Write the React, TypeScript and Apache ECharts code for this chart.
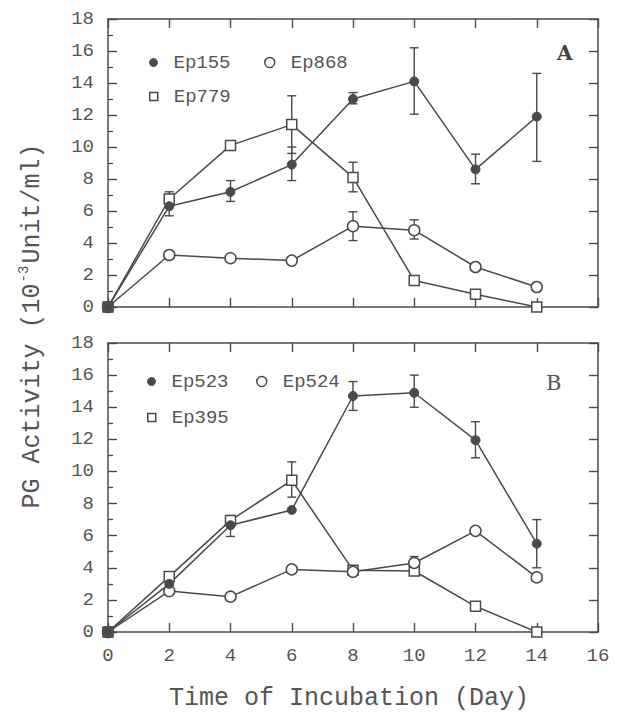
import React, { useEffect, useRef } from "react";
import * as echarts from "echarts";

// ---------- data ----------
const days = [0, 2, 4, 6, 8, 10, 12, 14];

// Panel A
const ep155 = [0, 6.3, 7.2, 8.9, 13.0, 14.1, 8.6, 11.9];
const ep868 = [0, 3.25, 3.05, 2.9, 5.05, 4.8, 2.5, 1.25];
const ep779 = [0, 6.75, 10.1, 11.4, 8.1, 1.65, 0.8, 0];
// error bars [day, low, high]
const ep155Err = [
  [2, 5.7, 6.9],
  [4, 6.6, 7.9],
  [6, 7.9, 10.0],
  [8, 12.7, 13.4],
  [10, 12.05, 16.2],
  [12, 7.7, 9.55],
  [14, 9.1, 14.6],
];
const ep868Err = [
  [8, 4.15, 5.95],
  [10, 4.25, 5.45],
];
const ep779Err = [
  [2, 6.3, 7.2],
  [6, 9.6, 13.2],
  [8, 7.2, 9.05],
];

// Panel B
const ep523 = [0, 3.0, 6.65, 7.6, 14.7, 14.9, 11.95, 5.5];
const ep524 = [0, 2.55, 2.2, 3.9, 3.75, 4.3, 6.3, 3.4];
const ep395 = [0, 3.45, 6.95, 9.45, 3.85, 3.8, 1.6, 0];
const ep523Err = [
  [4, 5.95, 7.1],
  [8, 13.8, 15.6],
  [10, 14.0, 16.0],
  [12, 10.85, 13.1],
  [14, 4.0, 7.0],
];
const ep524Err = [[10, 3.95, 4.7]];
const ep395Err = [
  [4, 6.7, 7.25],
  [6, 8.4, 10.6],
];

const yTickMin = 0;
const yTickMax = 18;
const yTickStep = 2;
const xTickMin = 0;
const xTickMax = 16;
const xTickStep = 2;

const panelLetters = ["A", "B"];
const xTitle = "Time of Incubation (Day)";

// ---------- style ----------
const LINE = "#4a4a4a";
const TEXT = "#555";
const MONO = '"Liberation Mono", "DejaVu Sans Mono", monospace';
const SERIF = '"DejaVu Serif", "Liberation Serif", serif';

const pair = (vals: number[]) => days.map((d, i) => [d, vals[i]]);

const errSeries = (data: number[][], gi: number) => ({
  type: "custom",
  xAxisIndex: gi * 2,
  yAxisIndex: gi * 2,
  z: 1,
  silent: true,
  encode: { x: 0, y: [1, 2] },
  data,
  renderItem: (params: any, api: any) => {
    const x = api.value(0);
    const p1 = api.coord([x, api.value(1)]);
    const p2 = api.coord([x, api.value(2)]);
    const w = 4.5;
    const style = { stroke: LINE, lineWidth: 1.4, fill: null };
    return {
      type: "group",
      children: [
        { type: "line", shape: { x1: p1[0], y1: p1[1], x2: p2[0], y2: p2[1] }, style },
        { type: "line", shape: { x1: p1[0] - w, y1: p1[1], x2: p1[0] + w, y2: p1[1] }, style },
        { type: "line", shape: { x1: p2[0] - w, y1: p2[1], x2: p2[0] + w, y2: p2[1] }, style },
      ],
    };
  },
});

type Kind = "filled" | "open" | "square";
const symbolOf = (k: Kind) => (k === "square" ? "rect" : "circle");
const sizeOf = (k: Kind) => (k === "filled" ? 9 : k === "open" ? 11 : 10);
const itemStyleOf = (k: Kind) =>
  k === "filled"
    ? { color: LINE, borderColor: LINE, borderWidth: 1 }
    : { color: "#fff", borderColor: LINE, borderWidth: 1.5 };

const lineSeries = (name: string, vals: number[], gi: number, k: Kind) => ({
  type: "line",
  name,
  xAxisIndex: gi * 2,
  yAxisIndex: gi * 2,
  z: 2,
  data: pair(vals),
  symbol: symbolOf(k),
  symbolSize: sizeOf(k),
  showAllSymbol: true,
  lineStyle: { color: LINE, width: 1.5 },
  itemStyle: itemStyleOf(k),
  emphasis: { disabled: true },
});

const legendItem = (name: string, k: Kind, cx: number, cy: number) => {
  const s = k === "open" ? 10 : 8;
  return {
    left: cx - s / 2,
    top: cy - 11,
    itemWidth: s,
    itemHeight: s,
    itemGap: 0,
    padding: 0,
    selectedMode: false,
    data: [
      {
        name,
        icon: symbolOf(k),
        itemStyle: itemStyleOf(k),
      },
    ],
    textStyle: {
      fontFamily: MONO,
      fontSize: 19,
      color: TEXT,
      padding: [0, 0, 0, 11],
    },
  };
};

const makeXAxis = (gi: number, pos: "bottom" | "top", labels: boolean) => ({
  type: "value",
  gridIndex: gi,
  position: pos,
  min: xTickMin,
  max: xTickMax,
  interval: xTickStep,
  axisLine: { show: true, onZero: false, lineStyle: { color: LINE, width: 1.5 } },
  axisTick: { show: true, inside: true, length: 9, lineStyle: { color: LINE, width: 1.4 } },
  axisLabel: {
    show: labels,
    margin: 14,
    fontFamily: MONO,
    fontSize: 19,
    color: TEXT,
  },
  splitLine: { show: false },
});

const makeYAxis = (gi: number, pos: "left" | "right", labels: boolean) => ({
  type: "value",
  gridIndex: gi,
  position: pos,
  min: yTickMin,
  max: yTickMax,
  interval: yTickStep,
  axisLine: { show: true, onZero: false, lineStyle: { color: LINE, width: 1.5 } },
  axisTick: { show: true, inside: true, length: 9, lineStyle: { color: LINE, width: 1.4 } },
  minorTick: labels
    ? { show: true, splitNumber: 2, length: 5, lineStyle: { color: LINE, width: 1.3 } }
    : { show: false },
  axisLabel: {
    show: labels,
    margin: 14,
    fontFamily: MONO,
    fontSize: 19,
    color: TEXT,
  },
  splitLine: { show: false },
  minorSplitLine: { show: false },
});

export default function App() {
  const ref = useRef<HTMLDivElement>(null);
  useEffect(() => {
    if (!ref.current) return;
    const chart = echarts.init(ref.current, undefined, { renderer: "svg" });
    chart.setOption({
      animation: false,
      backgroundColor: "#fff",
      grid: [
        { left: 108, top: 19, width: 490, height: 288 },
        { left: 108, top: 343, width: 490, height: 289 },
      ],
      xAxis: [
        makeXAxis(0, "bottom", false),
        makeXAxis(0, "top", false),
        makeXAxis(1, "bottom", true),
        makeXAxis(1, "top", false),
      ],
      yAxis: [
        makeYAxis(0, "left", true),
        makeYAxis(0, "right", false),
        makeYAxis(1, "left", true),
        makeYAxis(1, "right", false),
      ],
      legend: [
        legendItem("Ep155", "filled", 153, 64),
        legendItem("Ep868", "open", 269, 64),
        legendItem("Ep779", "square", 153, 98),
        legendItem("Ep523", "filled", 151, 383),
        legendItem("Ep524", "open", 261, 383),
        legendItem("Ep395", "square", 151, 419),
      ],
      title: [
        {
          text: panelLetters[0],
          left: 557,
          top: 43,
          padding: 0,
          textStyle: { fontFamily: SERIF, fontSize: 20, fontWeight: "bold", color: "#444" },
        },
        {
          text: panelLetters[1],
          left: 546,
          top: 372,
          padding: 0,
          textStyle: { fontFamily: SERIF, fontSize: 21, fontWeight: "normal", color: "#555" },
        },
      ],
      graphic: [
        {
          type: "text",
          x: 31,
          y: 326,
          rotation: Math.PI / 2,
          style: {
            text: "{a|PG Activity (10}{s|-3}{a|Unit/ml)}",
            align: "center",
            verticalAlign: "middle",
            fill: TEXT,
            rich: {
              a: { fontFamily: MONO, fontSize: 25, fill: TEXT, color: TEXT, lineHeight: 28, verticalAlign: "bottom" },
              s: { fontFamily: MONO, fontSize: 14, fill: TEXT, color: TEXT, lineHeight: 28, verticalAlign: "top", padding: [0, 2, 0, 1] },
            },
          },
        },
        {
          type: "text",
          x: 349,
          y: 698,
          style: {
            text: xTitle,
            align: "center",
            verticalAlign: "middle",
            fontFamily: MONO,
            fontSize: 25,
            fill: TEXT,
          },
        },
      ],
      series: [
        errSeries(ep155Err, 0),
        errSeries(ep868Err, 0),
        errSeries(ep779Err, 0),
        lineSeries("Ep779", ep779, 0, "square"),
        lineSeries("Ep868", ep868, 0, "open"),
        lineSeries("Ep155", ep155, 0, "filled"),
        errSeries(ep523Err, 1),
        errSeries(ep524Err, 1),
        errSeries(ep395Err, 1),
        lineSeries("Ep395", ep395, 1, "square"),
        lineSeries("Ep524", ep524, 1, "open"),
        lineSeries("Ep523", ep523, 1, "filled"),
      ],
    });
    return () => chart.dispose();
  }, []);
  return (
    <div
      ref={ref}
      style={{ position: "absolute", left: 0, top: 0, width: 619, height: 719 }}
    />
  );
}
